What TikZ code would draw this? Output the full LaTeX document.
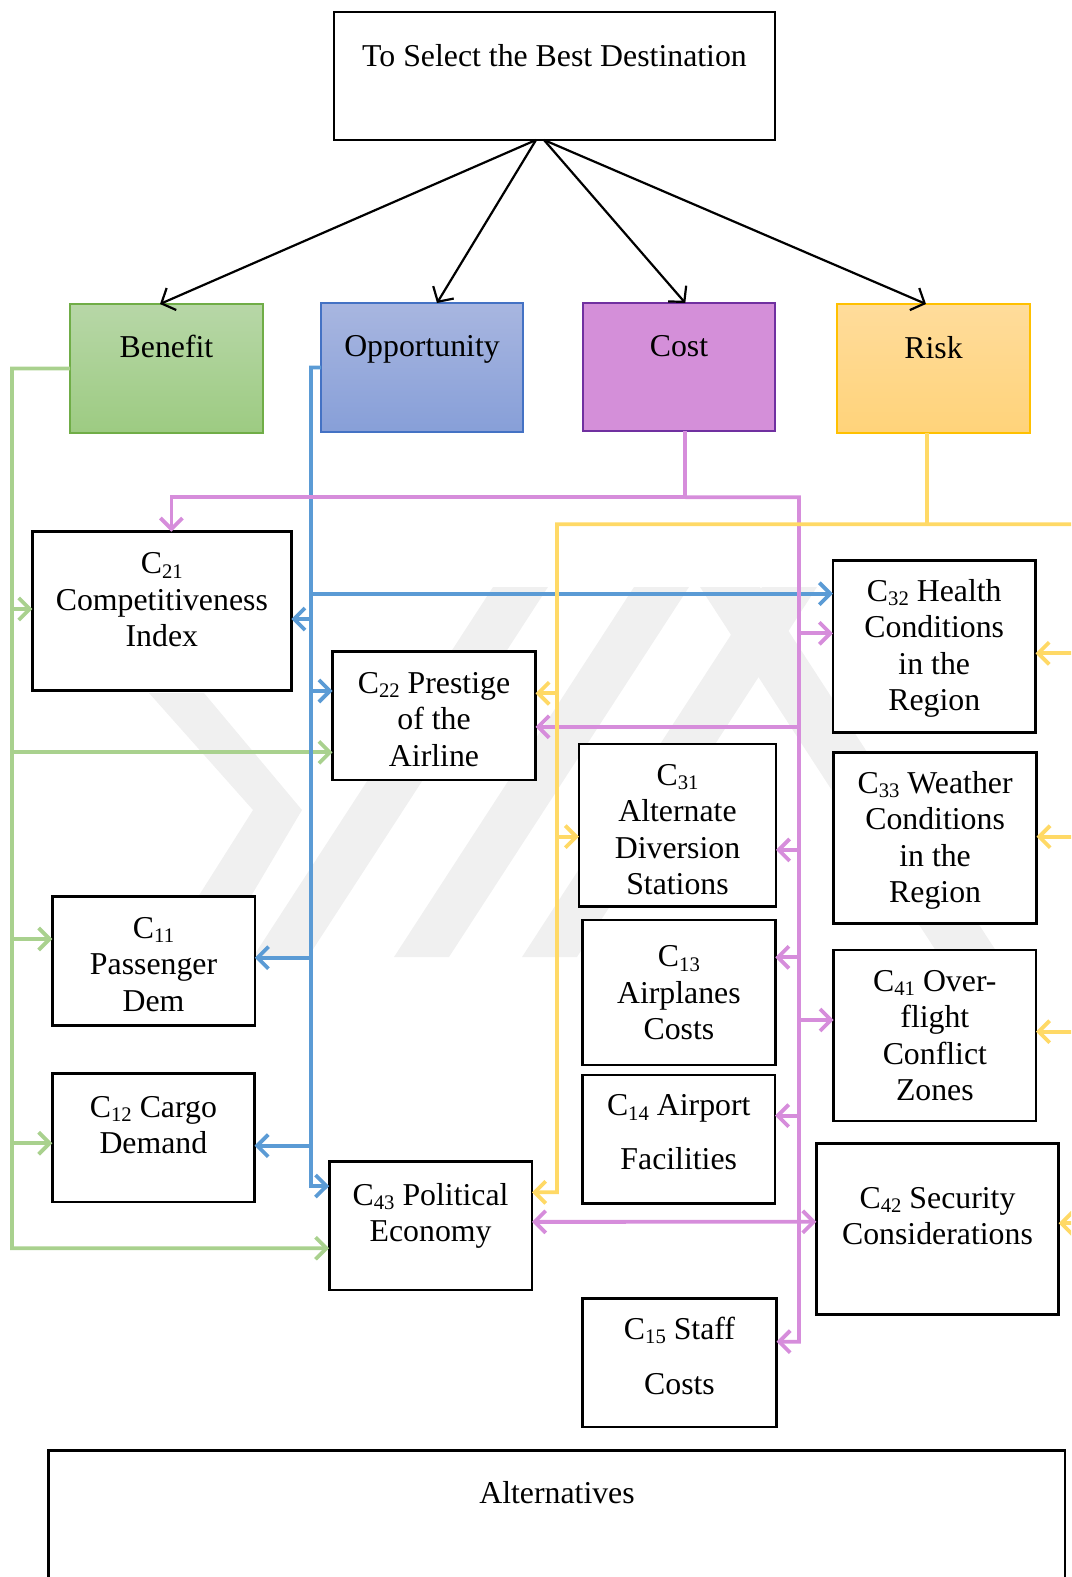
\documentclass[tikz,border=0pt]{standalone}
\usepackage{fontspec}
\setmainfont{Liberation Serif}
\usetikzlibrary{arrows.meta}

\definecolor{gline}{RGB}{169,209,142}
\definecolor{bline}{RGB}{91,155,213}
\definecolor{pline}{RGB}{214,141,219}
\definecolor{yline}{RGB}{255,217,102}
\definecolor{benTop}{RGB}{183,215,167}
\definecolor{benBot}{RGB}{157,203,130}
\definecolor{benEdge}{RGB}{112,173,71}
\definecolor{oppTop}{RGB}{168,182,224}
\definecolor{oppBot}{RGB}{135,159,216}
\definecolor{oppEdge}{RGB}{68,114,196}
\definecolor{costFill}{RGB}{212,143,217}
\definecolor{costEdge}{RGB}{112,48,160}
\definecolor{riskTop}{RGB}{255,220,155}
\definecolor{riskBot}{RGB}{255,211,122}
\definecolor{riskEdge}{RGB}{255,192,0}
\definecolor{wmark}{RGB}{240,240,240}

\newcommand{\boxfont}{\fontsize{31.8}{36.5}\selectfont}
\newcommand{\Csub}[1]{C\raisebox{-4.3pt}{\fontsize{20.7}{20.7}\selectfont #1}}

\begin{document}
\begin{tikzpicture}[x=1pt,y=-1pt,
  crit/.style={draw=black,fill=white,line width=2.6pt,anchor=north west,inner sep=0pt,outer sep=0pt},
  head/.style={line width=1.5pt,anchor=north west,inner sep=0pt,outer sep=0pt},
  txt/.style={font=\boxfont,align=center,inner sep=0pt,anchor=north},
  barb/.tip={Straight Barb[length=11pt,width=22pt,line width=3.8pt]},
  wire/.style={line width=3.8pt},
  conn/.style={wire,-barb},
  both/.style={wire,barb-barb},
  goalarrow/.style={line width=2.2pt,-{Straight Barb[length=11pt,width=24pt]}}]

\useasboundingbox (0,0) rectangle (1071,1577);
\clip (0,0) rectangle (1071,1577);

% faint background emblem
\fill[wmark] (149,693) -- (204,693) -- (302,810) -- (215,957) -- (160,957) -- (253,810) -- cycle;
\foreach \b in {253,394,522}
  \fill[wmark] (\b,957) -- (\b+55,957) -- (\b+295,587) -- (\b+240,587) -- cycle;
\fill[wmark] (700,587) -- (760,587) -- (1000,957) -- (940,957) -- cycle;

% goal and the four merits
\node[crit,minimum width=441pt,minimum height=128pt] (goal) at (334,12) {};
\node[head,draw=benEdge,top color=benTop,bottom color=benBot,minimum width=193pt,minimum height=129pt] (benefit) at (70,304) {};
\node[head,draw=oppEdge,top color=oppTop,bottom color=oppBot,minimum width=202pt,minimum height=129pt] (opp) at (321,303) {};
\node[head,draw=costEdge,fill=costFill,minimum width=192pt,minimum height=128pt] (cost) at (583,303) {};
\node[head,draw=riskEdge,top color=riskTop,bottom color=riskBot,minimum width=193pt,minimum height=129pt] (risk) at (837,304) {};

% criteria
\node[crit,minimum width=258.9pt,minimum height=159pt] (c21) at (32.4,531.7) {};
\node[crit,minimum width=202.9pt,minimum height=128.3pt] (c22) at (332.6,651.7) {};
\node[crit,minimum width=197pt,minimum height=162.7pt] (c31) at (579,744) {};
\node[crit,minimum width=202.5pt,minimum height=171.6pt] (c32) at (833,560.7) {};
\node[crit,minimum width=202.8pt,minimum height=171pt] (c33) at (833.7,752.3) {};
\node[crit,minimum width=202.5pt,minimum height=129pt] (c11) at (52.3,896.7) {};
\node[crit,minimum width=202.2pt,minimum height=128.7pt] (c12) at (52.3,1073.3) {};
\node[crit,minimum width=202.8pt,minimum height=128.3pt] (c43) at (329.2,1161.7) {};
\node[crit,minimum width=192.8pt,minimum height=145pt] (c13) at (582.5,920) {};
\node[crit,minimum width=192.5pt,minimum height=128.3pt] (c14) at (582.5,1075) {};
\node[crit,minimum width=202.3pt,minimum height=171pt] (c41) at (833.7,950) {};
\node[crit,minimum width=242.2pt,minimum height=171pt] (c42) at (816.4,1143.3) {};
\node[crit,minimum width=194pt,minimum height=128.7pt] (c15) at (582.5,1298.3) {};
\node[crit,minimum width=1016.3pt,minimum height=200pt] (alt) at (48.7,1450.7) {};

% labels
\node[txt] (goal-t) at (554.5,40.5) {\strut To Select the Best Destination};
\node[txt] (benefit-t) at (166.5,331.45) {\strut Benefit};
\node[txt] (opp-t) at (422,330.45) {\strut Opportunity};
\node[txt] (cost-t) at (679,330.45) {\strut Cost};
\node[txt] (risk-t) at (933.5,332.45) {\strut Risk};
\node[txt] (c21-t) at (161.85,548) {\strut\Csub{21}\\Competitiveness\\Index};
\node[txt] (c22-t) at (434,667.5) {\strut\Csub{22} Prestige\\of the\\Airline};
\node[txt] (c31-t) at (677.5,759.5) {\strut\Csub{31}\\Alternate\\Diversion\\Stations};
\node[txt] (c32-t) at (934.25,575.5) {\strut\Csub{32} Health\\Conditions\\in the\\Region};
\node[txt] (c33-t) at (935.1,767.45) {\strut\Csub{33} Weather\\Conditions\\in the\\Region};
\node[txt] (c11-t) at (153.55,912.45) {\strut\Csub{11}\\Passenger\\Dem};
\node[txt] (c12-t) at (153.4,1091.5) {\strut\Csub{12} Cargo\\Demand};
\node[txt] (c43-t) at (430.6,1179.5) {\strut\Csub{43} Political\\Economy};
\node[txt] (c13-t) at (678.9,941) {\strut\Csub{13}\\Airplanes\\Costs};
\node[txt] (c14-t) at (678.75,1090) {\strut\Csub{14} Airport\\[17.5pt]Facilities};
\node[txt] (c41-t) at (934.85,965.45) {\strut\Csub{41} Over-\\flight\\Conflict\\Zones};
\node[txt] (c42-t) at (937.5,1182.45) {\strut\Csub{42} Security\\Considerations};
\node[txt] (c15-t) at (679.5,1313.5) {\strut\Csub{15} Staff\\[18.5pt]Costs};
\node[txt] (alt-t) at (557,1478) {\strut Alternatives};

% goal to merits
\draw[goalarrow] ([xshift=-18.5pt]goal.south) -- ([xshift=-6.5pt]benefit.north);
\draw[goalarrow] ([xshift=-18.5pt]goal.south) -- ([xshift=15pt]opp.north);
\draw[goalarrow] ([xshift=-10.5pt]goal.south) -- ([xshift=6.3pt]cost.north);
\draw[goalarrow] ([xshift=-10.5pt]goal.south) -- ([xshift=-7.5pt]risk.north);

% benefit links
\coordinate (gK) at (12,1248.3);
\draw[conn,gline] (benefit.west) -| (gK) -- ([yshift=-22.4pt]c43.west);
\draw[conn,gline] (gK) |- ([yshift=2.2pt]c21.west);
\draw[conn,gline] (gK) |- ([yshift=-36.5pt]c22.west);
\draw[conn,gline] (gK) |- ([yshift=22.2pt]c11.west);
\draw[conn,gline] (gK) |- ([yshift=-5.6pt]c12.west);

% opportunity links
\coordinate (bK) at (311,1186);
\draw[conn,bline] (opp.west) -| (bK) -- ([yshift=39.8pt]c43.west);
\draw[conn,bline] (bK) |- ([yshift=52.8pt]c32.west);
\draw[conn,bline] (bK) |- ([yshift=-7.8pt]c21.east);
\draw[conn,bline] (bK) |- ([yshift=24.9pt]c22.west);
\draw[conn,bline] (bK) |- ([yshift=3.5pt]c11.east);
\draw[conn,bline] (bK) |- ([yshift=-8pt]c12.east);

% cost links
\coordinate (pH) at (685.3,497.3);
\coordinate (pK) at (799,1341.7);
\draw[conn,pline] ([xshift=6.3pt]cost.south) -- (pH) -| ([xshift=9.6pt]c21.north);
\draw[conn,pline] (pH) -| (pK) -- ([yshift=21pt]c15.east);
\draw[conn,pline] (pK) |- ([yshift=13.2pt]c32.west);
\draw[conn,pline] (pK) |- ([yshift=-10.9pt]c22.east);
\draw[conn,pline] (pK) |- ([yshift=-24.6pt]c31.east);
\draw[conn,pline] (pK) |- ([yshift=35.2pt]c13.east);
\draw[conn,pline] (pK) |- ([yshift=15.5pt]c41.west);
\draw[conn,pline] (pK) |- ([yshift=23.5pt]c14.east);
\draw[both,pline] ([yshift=4pt]c43.east) -- ([yshift=7pt]c42.west);

% risk links
\coordinate (yH) at (926.8,524.3);
\coordinate (yR) at (1085,524.3);
\coordinate (yK) at (557,1192.3);
\draw[wire,yline] ([xshift=-6.7pt]risk.south) -- (yH);
\draw[conn,yline] (yR) -| (yK) -- ([yshift=33.5pt]c43.east);
\draw[conn,yline] (yK) |- ([yshift=22.5pt]c22.east);
\draw[conn,yline] (yK) |- ([yshift=-11.3pt]c31.west);
\draw[conn,yline] (yR) |- ([yshift=-6.8pt]c32.east);
\draw[conn,yline] (yR) |- ([yshift=1.1pt]c33.east);
\draw[conn,yline] (yR) |- ([yshift=3.8pt]c41.east);
\draw[conn,yline] (yR) |- ([yshift=5.5pt]c42.east);
\end{tikzpicture}
\end{document}
